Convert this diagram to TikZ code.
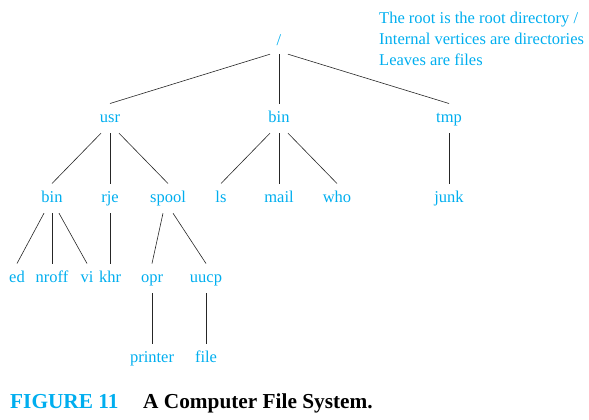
\documentclass[tikz,border=0pt]{standalone}
\usepackage{fontspec}
\setmainfont{Liberation Serif}
\definecolor{fcyan}{RGB}{0,174,239}
\begin{document}
\begin{tikzpicture}[x=1pt,y=-1pt,
  lbl/.style={font=\fontsize{16.5}{20}\selectfont, text=fcyan, anchor=base,
    text height=11.3pt, text depth=4pt, inner xsep=1pt, inner ysep=7pt},
  note/.style={font=\fontsize{16.5}{20}\selectfont, text=fcyan, anchor=base west, inner sep=0pt},
  capt/.style={anchor=base west, inner sep=0pt, font=\fontsize{21.3}{25}\selectfont\bfseries},
  edge/.style={draw=black!85, line width=0.6pt}]
\useasboundingbox (0,0) rectangle (589,420);
% nodes
\node[lbl, inner ysep=4pt] (root) at (279,46) {/};
\node[lbl] (usr) at (110,122) {usr};
\node[lbl] (bin) at (279,122) {bin};
\node[lbl] (tmp) at (449,122) {tmp};
\node[lbl] (ubin) at (52,202) {bin};
\node[lbl] (rje) at (110,202) {rje};
\node[lbl] (spool) at (168,202) {spool};
\node[lbl] (ls) at (221,202) {ls};
\node[lbl] (mail) at (279,202) {mail};
\node[lbl] (who) at (337,202) {who};
\node[lbl] (junk) at (449,202) {junk};
\node[lbl] (ed) at (17,282) {ed};
\node[lbl] (nroff) at (52,282) {nroff};
\node[lbl] (vi) at (87,282) {vi};
\node[lbl] (khr) at (110,282) {khr};
\node[lbl] (opr) at (152,282) {opr};
\node[lbl] (uucp) at (206,282) {uucp};
\node[lbl] (printer) at (152,362) {printer};
\node[lbl] (file) at (206,362) {file};
% edges
\draw[edge] ([xshift=-9pt]root.south) -- (usr.north);
\draw[edge] (root.south) -- (bin.north);
\draw[edge] ([xshift=9pt]root.south) -- (tmp.north);
\draw[edge] ([xshift=-9pt]usr.south) -- (ubin.north);
\draw[edge] (usr.south) -- (rje.north);
\draw[edge] ([xshift=9pt]usr.south) -- (spool.north);
\draw[edge] ([xshift=-9pt]bin.south) -- (ls.north);
\draw[edge] (bin.south) -- (mail.north);
\draw[edge] ([xshift=9pt]bin.south) -- (who.north);
\draw[edge] (tmp.south) -- (junk.north);
\draw[edge] ([xshift=-8pt]ubin.south) -- (ed.north);
\draw[edge] (ubin.south) -- (nroff.north);
\draw[edge] ([xshift=7pt]ubin.south) -- (vi.north);
\draw[edge] (rje.south) -- (khr.north);
\draw[edge] ([xshift=-5pt]spool.south) -- (opr.north);
\draw[edge] ([xshift=5pt]spool.south) -- (uucp.north);
\draw[edge] (opr.south) -- (printer.north);
\draw[edge] (uucp.south) -- (file.north);
% notes
\node[note] (n1) at (379,24) {The root is the root directory /};
\node[note] (n2) at (379,45) {Internal vertices are directories};
\node[note] (n3) at (379,66) {Leaves are files};
% caption
\node[capt, text=fcyan] (fig) at (10,408) {FIGURE 11};
\node[capt, text=black] (cap) at (143,408) {A Computer File System.};
\end{tikzpicture}
\end{document}
